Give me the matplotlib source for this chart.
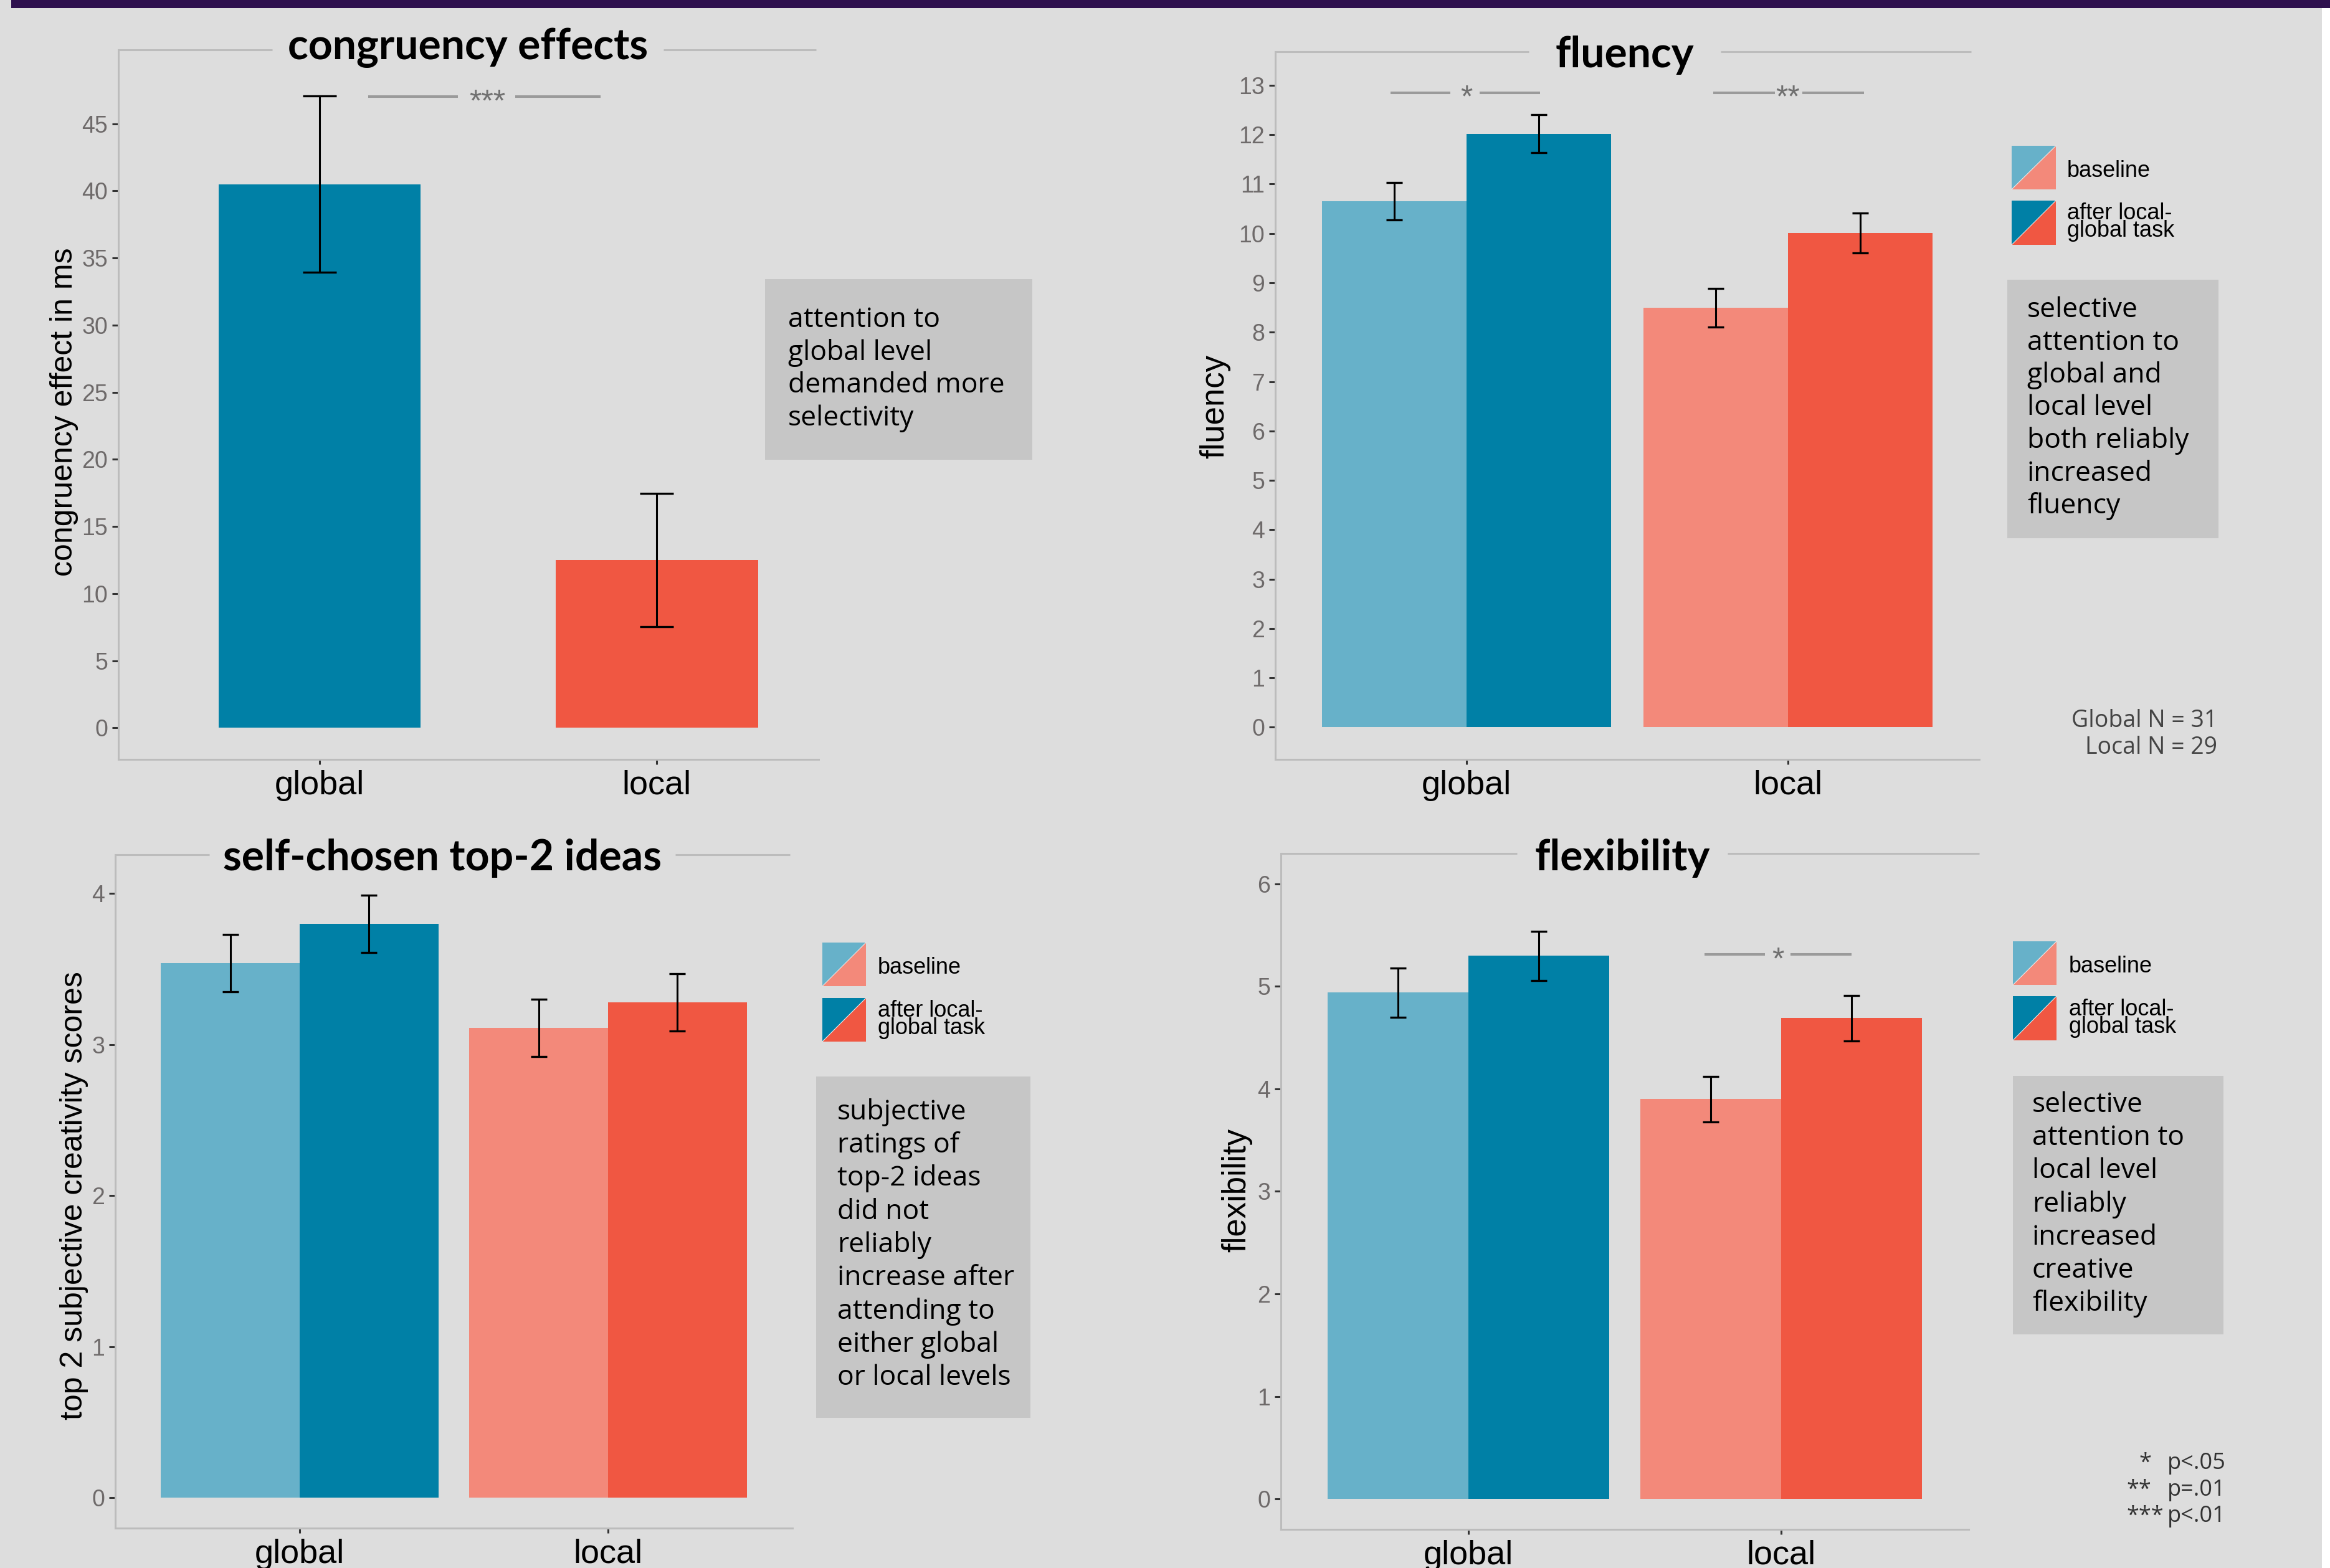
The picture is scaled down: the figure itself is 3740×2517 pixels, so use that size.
import matplotlib
matplotlib.use("Agg")
import matplotlib.pyplot as plt
from matplotlib.patches import Rectangle, Polygon
from matplotlib.lines import Line2D

W, H, DPI = 3741, 2517, 100

# ============================================================
#  DATA (read off the poster)
# ============================================================
groups = ["global", "local"]

cong_mean = [40.5, 12.5]
cong_err = [6.55, 4.95]

flu_baseline = [10.65, 8.50]
flu_baseline_err = [0.38, 0.39]
flu_after = [12.02, 10.01]
flu_after_err = [0.38, 0.40]

top2_baseline = [3.54, 3.11]
top2_baseline_err = [0.19, 0.19]
top2_after = [3.80, 3.28]
top2_after_err = [0.19, 0.19]

flex_baseline = [4.94, 3.90]
flex_baseline_err = [0.24, 0.22]
flex_after = [5.30, 4.69]
flex_after_err = [0.24, 0.22]

legend_labels = [["baseline"], ["after local-", "global task"]]
box_congruency = ["attention to", "global level", "demanded more", "selectivity"]
box_fluency = ["selective", "attention to", "global and", "local level",
               "both reliably", "increased", "fluency"]
box_top2 = ["subjective", "ratings of", "top-2 ideas", "did not", "reliably",
            "increase after", "attending to", "either global", "or local levels"]
box_flex = ["selective", "attention to", "local level", "reliably",
            "increased", "creative", "flexibility"]
n_lines = ["Global N = 31", "Local N = 29"]
p_stars = ["*", "**", "***"]
p_texts = ["p<.05", "p=.01", "p<.01"]

# significance marks: (stars, x centre, y, [segments])
sig_cong = [("***", 1.497, 47.0, [(1.144, 1.41), (1.58, 1.834)])]
sig_flu = [("*", 1.0, 12.85, [(0.764, 0.95), (1.041, 1.229)]),
           ("**", 2.0, 12.85, [(1.767, 1.959), (2.044, 2.236)])]
sig_flex = [("*", 1.99, 5.31, [(1.755, 1.948), (2.03, 2.225)])]

# ============================================================
#  STYLE
# ============================================================
BG = "#dddddd"
BOX = "#c6c6c6"
PURPLE = "#2e104e"
LIGHT_BLUE = "#67b1c9"
DARK_BLUE = "#0080a6"
SALMON = "#f3897a"
RED = "#f05742"
SPINE = "#bcbcbc"
TICKGREY = "#6e6a6a"
SIGGREY = "#9a9a9a"

ARIAL = ["Liberation Sans", "DejaVu Sans"]
SEGOE = ["Open Sans", "DejaVu Sans"]
CALIBRI = ["Lato", "DejaVu Sans"]

fig = plt.figure(figsize=(W / DPI, H / DPI), dpi=DPI)
fig.patch.set_facecolor(BG)


def fxy(x, y):
    return (x / W, 1 - y / H)


def fig_rect(x0, y0, x1, y1, color, z=0):
    fig.add_artist(Rectangle(fxy(x0, y1), (x1 - x0) / W, (y1 - y0) / H,
                             transform=fig.transFigure, facecolor=color,
                             edgecolor="none", zorder=z))


def fig_text(x, y, s, **kw):
    fig.text(x / W, 1 - y / H, s, **kw)


def to_axes(ax, x, y):
    return ax.transAxes.inverted().transform((x, H - y))


def make_axes(box, xlim, ylim, yticks):
    left, top, right, bottom = box
    ax = fig.add_axes([left / W, 1 - bottom / H, (right - left) / W, (bottom - top) / H])
    ax.set_facecolor("none")
    ax.set_xlim(xlim)
    ax.set_ylim(ylim)
    for s in ["top", "right"]:
        ax.spines[s].set_visible(False)
    for s in ["left", "bottom"]:
        ax.spines[s].set_color(SPINE)
        ax.spines[s].set_linewidth(2.2)
    ax.set_xticks([1, 2])
    ax.set_xticklabels(groups, fontsize=39, family=ARIAL, color="black")
    ax.set_yticks(yticks)
    ax.set_yticklabels([str(t) for t in yticks], fontsize=27, family=ARIAL, color=TICKGREY)
    ax.tick_params(axis="y", color="#333333", length=7, width=2.2, pad=5)
    ax.tick_params(axis="x", color="#333333", length=6, width=2.2, pad=6)
    return ax


def title_with_border(ax, text, cx, baseline, pad, end_px):
    xa, ya = to_axes(ax, cx, baseline)
    t = ax.text(xa, ya, text, transform=ax.transAxes, ha="center", va="baseline",
                fontsize=49, family=CALIBRI, fontweight="bold", color="black")
    fig.canvas.draw()
    bb = t.get_window_extent()
    x_left = ax.transAxes.inverted().transform((bb.x0 - pad, 0))[0]
    x_right = ax.transAxes.inverted().transform((bb.x1 + pad, 0))[0]
    x_end = to_axes(ax, end_px, 0)[0]
    for a, b in [(0, x_left), (x_right, x_end)]:
        ax.add_line(Line2D([a, b], [1, 1], transform=ax.transAxes, color=SPINE,
                           lw=2.2, clip_on=False, solid_capstyle="butt"))


def ylabel_at(ax, text, x, y, size):
    ax.set_ylabel(text, fontsize=size, family=ARIAL, color="black")
    xa, ya = to_axes(ax, x, y)
    ax.yaxis.set_label_coords(xa, ya)
    ax.yaxis.label.set_va("center")


def sig_marks(ax, marks):
    fs = 36
    for stars, xc, y, segs in marks:
        for a, b in segs:
            ax.plot([a, b], [y, y], color=SIGGREY, lw=2.9, solid_capstyle="butt")
        ax.annotate(stars, xy=(xc, y), xytext=(0, -0.45 * fs), textcoords="offset points",
                    ha="center", va="baseline", fontsize=fs, family=ARIAL, color="#707070")


def dodge_bars(ax, base, base_err, after, after_err, cap):
    x = [1, 2]
    xb = [v - 0.225 for v in x]
    xa = [v + 0.225 for v in x]
    ax.bar(xb, base, width=0.45, color=[LIGHT_BLUE, SALMON], zorder=2)
    ax.bar(xa, after, width=0.45, color=[DARK_BLUE, RED], zorder=2)
    for xs, m, e in [(xb, base, base_err), (xa, after, after_err)]:
        ax.errorbar(xs, m, yerr=e, fmt="none", ecolor="black", elinewidth=2.2,
                    capsize=cap, capthick=2.4, zorder=3)


def text_box(x0, y0, x1, y1, tx, base0, step, lines):
    fig_rect(x0, y0, x1, y1, BOX, z=1)
    for i, line in enumerate(lines):
        fig_text(tx, base0 + i * step, line, ha="left", va="baseline",
                 fontsize=32, family=SEGOE, color="black", zorder=2)


def legend(x0, x1, sw1, sw2, lx):
    for (y0, y1), (ctop, cbot), lines in zip([sw1, sw2],
                                             [(LIGHT_BLUE, SALMON), (DARK_BLUE, RED)],
                                             legend_labels):
        fig.add_artist(Polygon([fxy(x0, y1), fxy(x0, y0), fxy(x1, y0)], closed=True,
                               transform=fig.transFigure, facecolor=ctop, edgecolor="none"))
        fig.add_artist(Polygon([fxy(x0, y1), fxy(x1, y0), fxy(x1, y1)], closed=True,
                               transform=fig.transFigure, facecolor=cbot, edgecolor="none"))
        fig.add_artist(Line2D([x0 / W, x1 / W], [1 - y1 / H, 1 - y0 / H],
                              transform=fig.transFigure, color="#e8e8e8", lw=0.8))
        yc = (y0 + y1) / 2
        if len(lines) == 1:
            fig_text(lx, yc + 15, lines[0], va="baseline", fontsize=26, family=ARIAL)
        else:
            fig_text(lx, yc - 5, lines[0], va="baseline", fontsize=26, family=ARIAL)
            fig_text(lx, yc + 23, lines[1], va="baseline", fontsize=26, family=ARIAL)


# top purple strip and white right edge
fig_rect(18, 0, W, 13, PURPLE, z=5)
fig_rect(3727, 13, W, H, "white", z=5)

# ============================================================
#  PANEL 1: congruency effects
# ============================================================
ax1 = make_axes((190, 80, 1314, 1219), (0.403, 2.48), (-2.35, 50.5), list(range(0, 50, 5)))
ax1.bar([1, 2], cong_mean, width=0.6, color=[DARK_BLUE, RED], zorder=2)
ax1.errorbar([1, 2], cong_mean, yerr=cong_err, fmt="none", ecolor="black",
             elinewidth=2.2, capsize=19.4, capthick=2.4, zorder=3)
sig_marks(ax1, sig_cong)
ylabel_at(ax1, "congruency effect in ms", 103, 661, 36)
title_with_border(ax1, "congruency effects", 751, 95, 25, 1310)
text_box(1228, 448, 1657, 738, 1265, 525, 52.7, box_congruency)

# ============================================================
#  PANEL 2: fluency
# ============================================================
ax2 = make_axes((2047, 83, 3177, 1219), (0.405, 2.595), (-0.65, 13.68), list(range(0, 14)))
dodge_bars(ax2, flu_baseline, flu_baseline_err, flu_after, flu_after_err, 9.4)
sig_marks(ax2, sig_flu)
ylabel_at(ax2, "fluency", 1950, 653, 38)
title_with_border(ax2, "fluency", 2608, 108, 43, 3164)
legend(3229, 3300, (234, 304), (322, 393), 3318)
text_box(3222, 449, 3561, 864, 3254, 509, 52.5, box_fluency)
for i, line in enumerate(n_lines):
    fig_text(3559, 1167 + i * 43, line, ha="right", va="baseline", fontsize=27,
             family=SEGOE, color="#444444")

# ============================================================
#  PANEL 3: self-chosen top-2 ideas
# ============================================================
ax3 = make_axes((185, 1372, 1272, 2453), (0.402, 2.598), (-0.2, 4.257), list(range(0, 5)))
dodge_bars(ax3, top2_baseline, top2_baseline_err, top2_after, top2_after_err, 9.4)
ylabel_at(ax3, "top 2 subjective creativity scores", 119, 1919, 36)
title_with_border(ax3, "self-chosen top-2 ideas", 710, 1397, 22, 1268)
legend(1320, 1390, (1513, 1583), (1602, 1672), 1409)
text_box(1310, 1728, 1654, 2276, 1344, 1797, 53.25, box_top2)

# ============================================================
#  PANEL 4: flexibility
# ============================================================
ax4 = make_axes((2056, 1370, 3160, 2455), (0.401, 2.599), (-0.297, 6.297), list(range(0, 7)))
dodge_bars(ax4, flex_baseline, flex_baseline_err, flex_after, flex_after_err, 9.4)
sig_marks(ax4, sig_flex)
ylabel_at(ax4, "flexibility", 1985, 1911, 38)
title_with_border(ax4, "flexibility", 2604, 1397, 28, 3177)
legend(3231, 3301, (1511, 1581), (1599, 1670), 3321)
text_box(3231, 1727, 3569, 2142, 3262, 1785, 53.2, box_flex)
for i, (st, pt) in enumerate(zip(p_stars, p_texts)):
    y = 2358 + i * 42.5
    fig_text(3473 if st == "***" else 3453, y, st, ha="right", va="baseline",
             fontsize=26, family=SEGOE, color="#333333")
    fig_text(3479, y, pt, ha="left", va="baseline", fontsize=26, family=SEGOE,
             color="#333333")

fig.savefig("out.png", dpi=DPI, facecolor=fig.get_facecolor())
